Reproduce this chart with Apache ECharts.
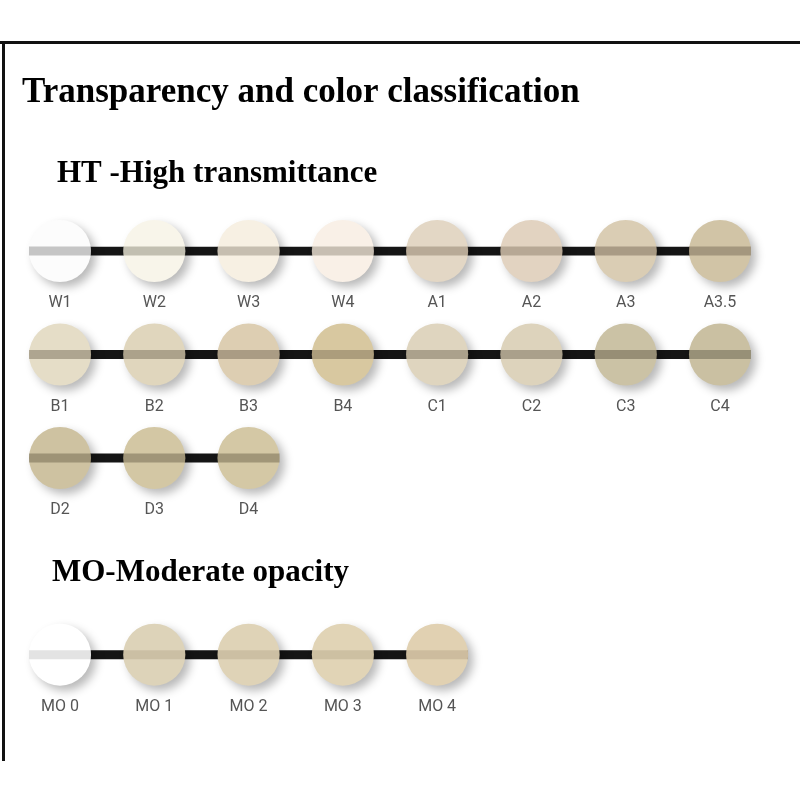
<!DOCTYPE html>
<html>
<head>
<meta charset="utf-8">
<script src="https://cdn.jsdelivr.net/npm/echarts@6/dist/echarts.min.js"></script>
<style>html,body{margin:0;padding:0;background:#fff}#main{width:800px;height:800px}</style>
</head>
<body>
<div id="main"></div>
<script>
// shade names, column, row, colour
var shades = ['W1','W2','W3','W4','A1','A2','A3','A3.5',
  'B1','B2','B3','B4','C1','C2','C3','C4',
  'D2','D3','D4',
  'MO 0','MO 1','MO 2','MO 3','MO 4'];
var cols = [0,1,2,3,4,5,6,7, 0,1,2,3,4,5,6,7, 0,1,2, 0,1,2,3,4];
var rows = [0,0,0,0,0,0,0,0, 1,1,1,1,1,1,1,1, 2,2,2, 3.9,3.9,3.9,3.9,3.9];
var colors = ['#fcfcfc','#f8f5ea','#f7f0e3','#f9f0e7','#e3d7c5','#e2d3c1','#dacdb4','#d1c4a6',
  '#e5ddc7','#e0d6bd','#ddceb2','#d8c8a0','#dfd5bf','#ddd3bc','#cbc2a5','#cac0a2',
  '#cec2a1','#d3c7a4','#d4c8a5',
  '#ffffff','#ddd3b9','#dfd3b7','#e1d4b6','#e1d1b2'];
var bands = ['rgba(160,160,160,0.6)','rgba(150,145,130,0.55)','rgba(150,140,125,0.5)','rgba(150,140,125,0.5)',
  'rgba(130,115,95,0.45)','rgba(130,115,95,0.45)','rgba(120,105,85,0.5)','rgba(120,105,85,0.5)',
  'rgba(120,110,90,0.5)','rgba(120,110,90,0.5)','rgba(120,105,85,0.5)','rgba(120,105,80,0.45)',
  'rgba(120,110,90,0.5)','rgba(120,110,90,0.5)','rgba(100,90,70,0.5)','rgba(100,95,75,0.5)',
  'rgba(110,100,75,0.5)','rgba(110,100,75,0.5)','rgba(110,100,75,0.5)',
  'rgba(200,200,200,0.5)','rgba(170,155,125,0.35)','rgba(170,155,125,0.35)','rgba(170,155,125,0.35)','rgba(170,150,120,0.35)'];
// connecting bars: row, last col
var barRows = [0, 1, 2, 3.9];
var barEnds = [7, 7, 2, 4];

var chart = echarts.init(document.getElementById('main'));
var R = 31;

var barSeries = barRows.map(function (r, i) {
  return {
    type: 'line', data: [[-0.32, r], [barEnds[i] + 0.32, r]],
    symbol: 'none', lineStyle: { color: '#151515', width: 9 }, z: 1, silent: true
  };
});

var swatchData = shades.map(function (s, i) { return [cols[i], rows[i], i]; });

chart.setOption({
  animation: false,
  grid: { left: 60, right: 80, top: 251, height: 414 },
  xAxis: { type: 'value', min: 0, max: 7, show: false },
  yAxis: { type: 'value', min: 0, max: 4, inverse: true, show: false },
  graphic: [
    { type: 'rect', shape: { x: 0, y: 41, width: 800, height: 3 }, style: { fill: '#111' } },
    { type: 'rect', shape: { x: 2, y: 41, width: 3, height: 720 }, style: { fill: '#111' } },
    { type: 'text', left: 22, top: 75, style: { text: 'Transparency and color classification', font: 'bold 35px "Liberation Serif", serif', fill: '#000' } },
    { type: 'text', left: 57, top: 158, style: { text: 'HT -High transmittance', font: 'bold 31px "Liberation Serif", serif', fill: '#000' } },
    { type: 'text', left: 52, top: 557, style: { text: 'MO-Moderate opacity', font: 'bold 31px "Liberation Serif", serif', fill: '#000' } }
  ],
  series: barSeries.concat([{
    type: 'custom', z: 3,
    data: swatchData,
    renderItem: function (params, api) {
      var p = api.coord([api.value(0), api.value(1)]);
      var i = api.value(2);
      return {
        type: 'group',
        children: [
          { type: 'circle', shape: { cx: p[0], cy: p[1], r: R },
            style: { fill: colors[i], shadowBlur: 10, shadowOffsetX: 5, shadowOffsetY: 5, shadowColor: 'rgba(0,0,0,0.28)' } },
          { type: 'rect', shape: { x: p[0] - R, y: p[1] - 4.5, width: 2 * R, height: 9 },
            style: { fill: bands[i] } },
          { type: 'text', x: p[0], y: p[1] + 52,
            style: { text: shades[i], textAlign: 'center', textVerticalAlign: 'middle',
              font: '16px Roboto, sans-serif', fill: '#555' } }
        ]
      };
    }
  }])
});
</script>
</body>
</html>
